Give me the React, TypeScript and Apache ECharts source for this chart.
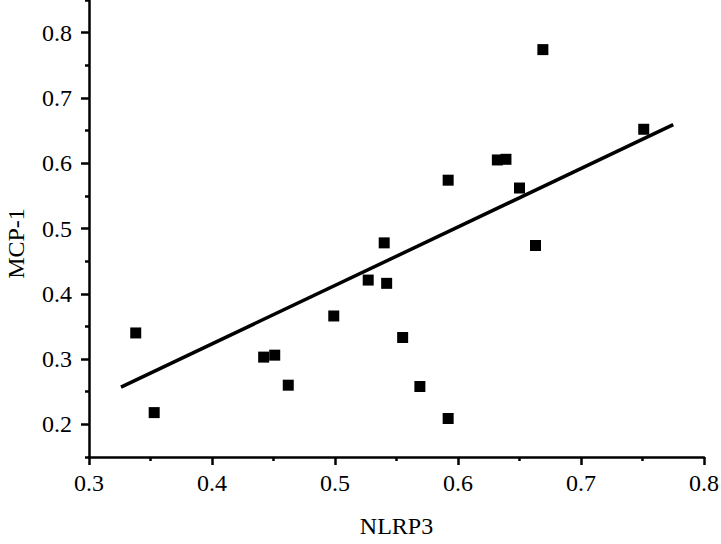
import React, { useEffect, useRef } from "react";
import * as echarts from "echarts";

const nlrp3 = [0.338, 0.353, 0.442, 0.451, 0.462, 0.499, 0.527, 0.540, 0.542, 0.555, 0.569, 0.592, 0.592, 0.632, 0.639, 0.650, 0.663, 0.669, 0.751];
const mcp1 = [0.340, 0.218, 0.303, 0.306, 0.260, 0.366, 0.421, 0.478, 0.416, 0.333, 0.258, 0.574, 0.209, 0.605, 0.606, 0.562, 0.474, 0.774, 0.652];
const fitX = [0.326, 0.775];
const fitY = [0.257, 0.659];
const xMajor = [0.3, 0.4, 0.5, 0.6, 0.7, 0.8];
const xMinor = [0.35, 0.45, 0.55, 0.65, 0.75];
const yMajor = [0.2, 0.3, 0.4, 0.5, 0.6, 0.7, 0.8];
const yMinor = [0.15, 0.25, 0.35, 0.45, 0.55, 0.65, 0.75, 0.85];

const FONT = "'Liberation Serif', 'Times New Roman', serif";

export default function App() {
  const ref = useRef<HTMLDivElement>(null);
  useEffect(() => {
    if (!ref.current) return;
    const chart = echarts.init(ref.current, undefined, { renderer: "svg" });
    const axisLine = { show: true, lineStyle: { color: "#000", width: 2.5 } };
    const label = { color: "#000", fontFamily: FONT, fontSize: 24 };
    chart.setOption({
      animation: false,
      backgroundColor: "#fff",
      textStyle: { fontFamily: FONT },
      grid: { left: 89, right: 17, top: 0, bottom: 87, containLabel: false, outerBoundsMode: "none" },
      xAxis: [
        {
          type: "value",
          min: 0.3,
          max: 0.8,
          interval: 0.05,
          axisLine,
          splitLine: { show: false },
          axisTick: { show: true, inside: false, length: 8, customValues: xMajor, lineStyle: { color: "#000", width: 2.5 } },
          axisLabel: { ...label, margin: 14, customValues: xMajor, formatter: (v: number) => String(Math.round(v * 10) / 10) },
          name: "NLRP3",
          nameLocation: "middle",
          nameGap: 57,
          nameTextStyle: { color: "#000", fontFamily: FONT, fontSize: 24 },
        },
        {
          type: "value",
          min: 0.3,
          max: 0.8,
          interval: 0.05,
          position: "bottom",
          axisLine: { show: false },
          splitLine: { show: false },
          axisTick: { show: true, inside: false, length: 4, customValues: xMinor, lineStyle: { color: "#000", width: 2.5 } },
          axisLabel: { show: false },
        },
      ],
      yAxis: [
        {
          type: "value",
          min: 0.15,
          max: 0.85,
          interval: 0.05,
          axisLine,
          splitLine: { show: false },
          axisTick: { show: true, inside: false, length: 8, customValues: yMajor, lineStyle: { color: "#000", width: 2.5 } },
          axisLabel: { ...label, margin: 17, customValues: yMajor, formatter: (v: number) => String(Math.round(v * 10) / 10) },
          name: "MCP-1",
          nameLocation: "middle",
          nameGap: 61,
          nameTextStyle: { color: "#000", fontFamily: FONT, fontSize: 24, padding: [0, 30, 0, 0] },
        },
        {
          type: "value",
          min: 0.15,
          max: 0.85,
          interval: 0.05,
          position: "left",
          axisLine: { show: false },
          splitLine: { show: false },
          axisTick: { show: true, inside: false, length: 4, customValues: yMinor, lineStyle: { color: "#000", width: 2.5 } },
          axisLabel: { show: false },
        },
      ],
      series: [
        {
          type: "line",
          data: fitX.map((x, i) => [x, fitY[i]]),
          symbol: "none",
          lineStyle: { color: "#000", width: 3.5 },
          z: 2,
        },
        {
          type: "scatter",
          data: nlrp3.map((x, i) => [x, mcp1[i]]),
          symbol: "rect",
          symbolSize: 11,
          itemStyle: { color: "#000", opacity: 1 },
          z: 3,
        },
      ],
    });
    return () => chart.dispose();
  }, []);
  return <div ref={ref} style={{ position: "fixed", left: 0, top: 0, width: 721, height: 544 }} />;
}
